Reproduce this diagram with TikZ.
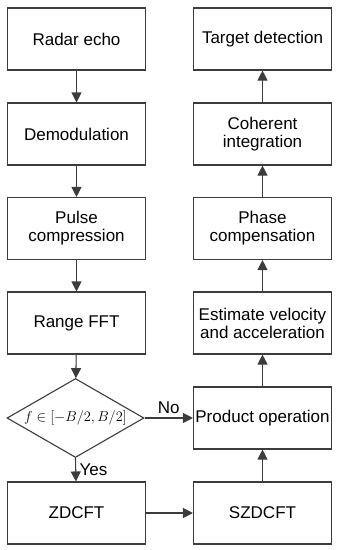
\documentclass[tikz,border=0pt]{standalone}
\usepackage{fontspec}
\setmainfont{Liberation Sans}
\usetikzlibrary{arrows.meta,shapes.geometric}
\definecolor{figK}{RGB}{60,60,60}
\begin{document}
\begin{tikzpicture}[x=1pt,y=-1pt,>={Triangle[length=10pt,width=10pt]},
  blk/.style={draw=figK,line width=1.1pt,minimum width=138pt,minimum height=62pt,inner sep=0pt,align=center,font=\fontsize{17}{18}\selectfont},
  arr/.style={->,draw=figK,fill=figK,line width=1.1pt}]
\useasboundingbox (0,0) rectangle (338,550);
% left column: top to bottom
\node[blk] (echo) at (76.5,39) {Radar echo};
\node[blk] (demod) at (76.5,134) {Demodulation};
\node[blk] (pulse) at (76.5,228.5) {Pulse\\compression};
\node[blk] (rfft) at (76.5,323) {Range FFT};
\node[diamond,draw=figK,line width=1.1pt,minimum width=137pt,minimum height=79pt,inner sep=0pt] (chk) at (75.5,418) {};
\node[font=\fontsize{15}{16}\selectfont] at (chk) {$f\in[-B/2,B/2]$};
\node[blk] (zd) at (76.5,513) {ZDCFT};
% right column: bottom to top
\node[blk] (szd) at (262.5,513) {SZDCFT};
\node[blk] (prod) at (262.5,418) {Product operation};
\node[blk] (est) at (262.5,323) {Estimate velocity\\and acceleration};
\node[blk] (phase) at (262.5,228.5) {Phase\\compensation};
\node[blk] (coh) at (262.5,134) {Coherent\\integration};
\node[blk] (tgt) at (262.5,39) {Target detection};
\draw[arr] (echo) -- (demod);
\draw[arr] (demod) -- (pulse);
\draw[arr] (pulse) -- (rfft);
\draw[arr] (rfft) -- (chk);
\draw[arr] (chk.south) -- node[right,font=\fontsize{17}{18}\selectfont]{Yes} (zd);
\draw[arr] (chk.east) -- node[above,font=\fontsize{17}{18}\selectfont]{No} (prod);
\draw[arr] (zd) -- (szd);
\draw[arr] (szd) -- (prod);
\draw[arr] (prod) -- (est);
\draw[arr] (est) -- (phase);
\draw[arr] (phase) -- (coh);
\draw[arr] (coh) -- (tgt);
\end{tikzpicture}
\end{document}
